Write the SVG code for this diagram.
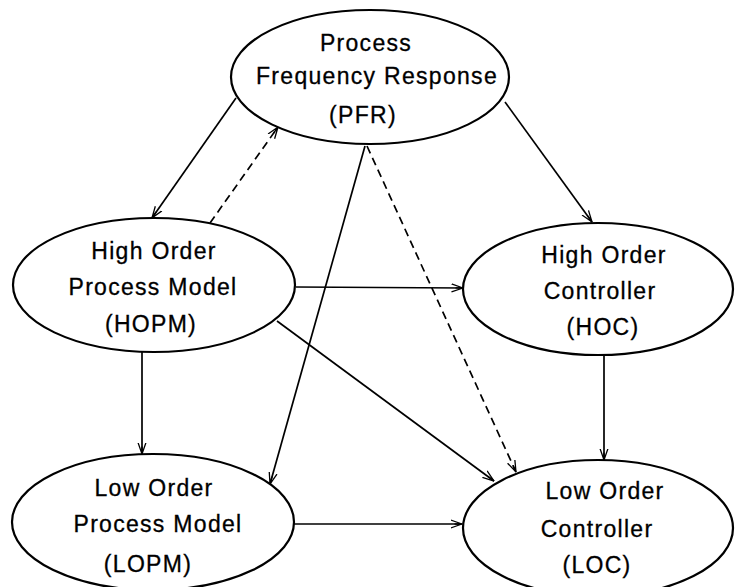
<svg xmlns="http://www.w3.org/2000/svg" width="735" height="587" viewBox="0 0 735 587">
<style>
.node ellipse{fill:#fff;stroke:#000;stroke-width:2.2}
.node text{font-family:"Liberation Sans",Arial,sans-serif;font-size:23px;letter-spacing:1.3px;fill:#000;stroke:#000;stroke-width:0.3;text-anchor:middle}
.edge{stroke:#000;stroke-width:1.7;fill:none;marker-end:url(#arr)}
.dash{stroke-dasharray:8 5}
</style>
<defs>
<marker id="arr" viewBox="0 0 12 10" refX="11.5" refY="5" markerWidth="12" markerHeight="10" markerUnits="userSpaceOnUse" orient="auto">
<path d="M0,1 L11.5,5 L0,9 M4,5 L11.5,5" fill="none" stroke="#000" stroke-width="1.3"/>
</marker>
</defs>
<rect width="735" height="587" fill="#fff"/>
<g id="connectors">
<path class="edge" d="M236,98 L152,218"/>
<path class="edge dash" d="M210,223 L278,127"/>
<path class="edge" d="M505,102 L592,222"/>
<path class="edge" d="M365,146 L270,484"/>
<path class="edge dash" d="M367,146 L516,472"/>
<path class="edge" d="M296,287 L463,288"/>
<path class="edge" d="M277,321 L494,481"/>
<path class="edge" d="M142,352 L142,454"/>
<path class="edge" d="M604,355 L604,460"/>
<path class="edge" d="M294,524 L462,524"/>
</g>
<g id="PFR" class="node">
<ellipse cx="370" cy="77" rx="139" ry="67"/>
<text x="366" y="51">Process</text>
<text x="377" y="84">Frequency Response</text>
<text x="363" y="123">(PFR)</text>
</g>
<g id="HOPM" class="node">
<ellipse cx="154" cy="285" rx="141" ry="67"/>
<text x="154" y="259">High Order</text>
<text x="153" y="295">Process Model</text>
<text x="151" y="332">(HOPM)</text>
</g>
<g id="HOC" class="node">
<ellipse cx="598" cy="289" rx="135" ry="66"/>
<text x="604" y="263">High Order</text>
<text x="600" y="299">Controller</text>
<text x="603" y="335">(HOC)</text>
</g>
<g id="LOPM" class="node">
<ellipse cx="153" cy="522" rx="141" ry="68"/>
<text x="154" y="496">Low Order</text>
<text x="158" y="532">Process Model</text>
<text x="148" y="572">(LOPM)</text>
</g>
<g id="LOC" class="node">
<ellipse cx="598" cy="528" rx="135" ry="68"/>
<text x="605" y="499">Low Order</text>
<text x="597" y="537">Controller</text>
<text x="597" y="573">(LOC)</text>
</g>
</svg>
